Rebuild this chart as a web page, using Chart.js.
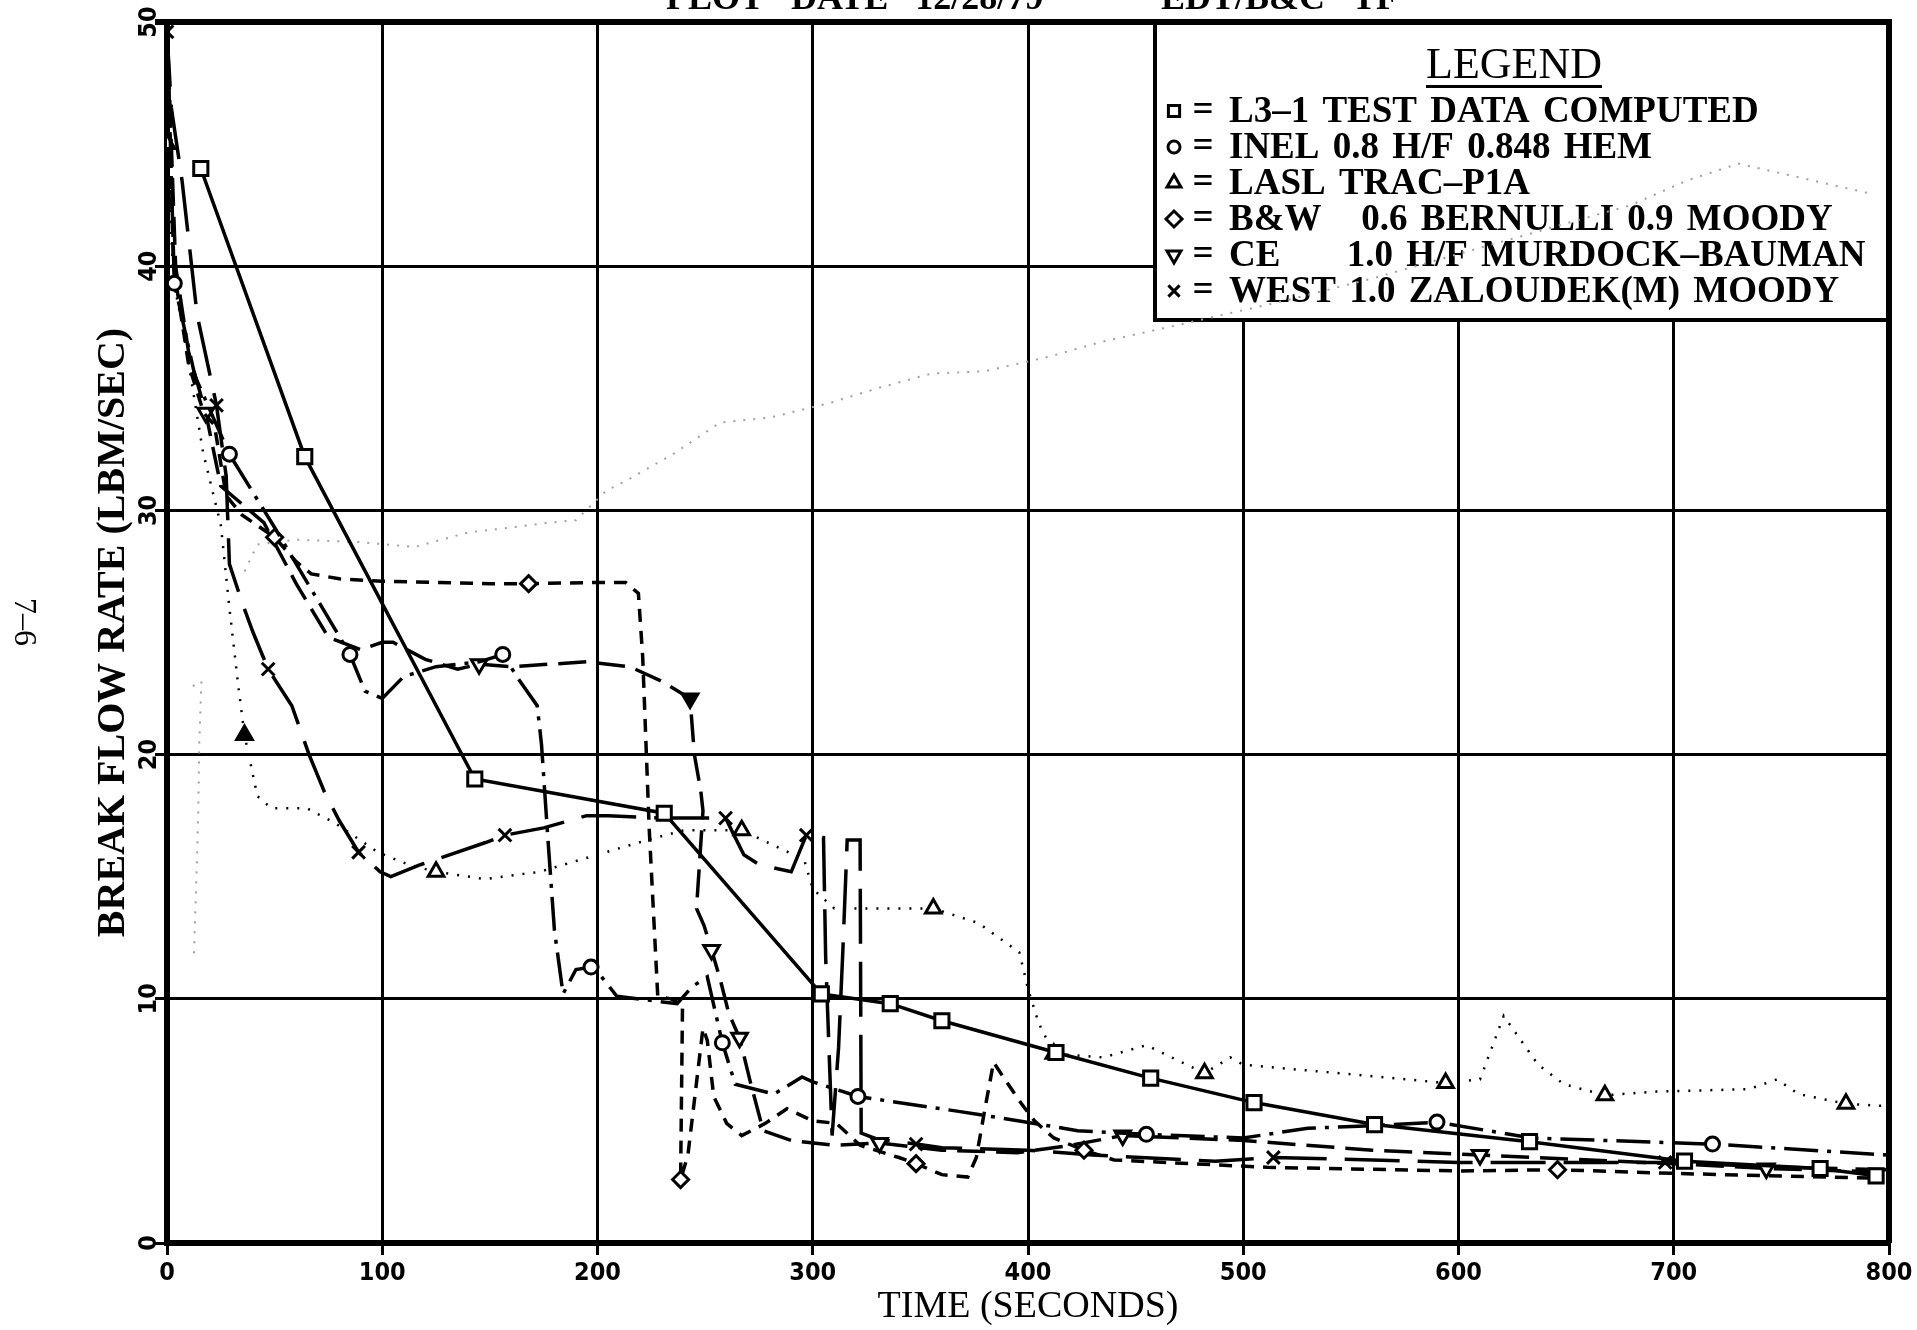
<!DOCTYPE html>
<html>
<head>
<meta charset="utf-8">
<script src="https://cdn.jsdelivr.net/npm/chart.js@4.4.1/dist/chart.umd.min.js"></script>
<style>
html, body { margin: 0; padding: 0; background: #fff; }
canvas { display: block; }
</style>
</head>
<body>
<canvas id="akisGrafik" width="1917" height="1330"></canvas>
<script>
const xTicks = [0, 100, 200, 300, 400, 500, 600, 700, 800];
const yTicks = [0, 10, 20, 30, 40, 50];

// L3-1 test data (squares)
const l31Time = [15.7, 64, 143, 231, 304, 336, 360, 413, 457, 505, 561, 633, 705, 768, 794];
const l31Flow = [44.0, 32.2, 19.0, 17.6, 10.2, 9.8, 9.1, 7.8, 6.75, 5.75, 4.85, 4.15, 3.35, 3.05, 2.75];

// INEL (circles)
const inelTime = [0, 3.4, 13, 29, 50, 85, 92, 100, 110, 125, 145, 156, 164, 172, 174, 177, 180, 184, 190, 197, 201, 209, 237, 244, 251, 258, 264, 282, 295, 300, 321, 367, 396, 423, 455, 500, 530, 560, 590, 634, 718, 800];
const inelFlow = [50, 39.3, 35.5, 32.3, 29.3, 24.1, 22.6, 22.3, 23.2, 23.6, 23.8, 24.1, 23.0, 22.0, 20.4, 16.5, 12.8, 10.2, 11.2, 11.3, 11.0, 10.1, 9.8, 10.5, 10.9, 8.2, 6.5, 6.1, 6.8, 6.6, 6.0, 5.4, 5.0, 4.6, 4.45, 4.3, 4.7, 4.8, 4.95, 4.3, 4.05, 3.6];
const inelMarks = [1, 3, 5, 11, 19, 25, 30, 34, 38, 40];

// LASL (triangles)
const laslTime = [0, 3, 7.5, 16.7, 25, 29, 33, 36, 42, 48.5, 65, 78, 98, 112, 125, 148, 173, 200, 223, 240, 267, 296, 300, 310, 324, 356, 377, 396, 400, 405, 412, 435, 455, 482, 494, 500, 564, 594, 610, 621, 629, 637, 649, 668, 692, 735, 748, 758, 780, 800];
const laslFlow = [45, 39.4, 37.4, 32.4, 29.4, 26, 22.9, 20.8, 18.3, 17.8, 17.8, 17.2, 16.0, 15.5, 15.2, 14.9, 15.2, 15.9, 16.5, 16.9, 16.9, 15.7, 14.5, 13.7, 13.7, 13.7, 13.1, 11.9, 10.4, 9.0, 7.75, 7.6, 8.1, 6.95, 7.6, 7.3, 6.8, 6.55, 6.7, 9.3, 8.3, 7.3, 6.5, 6.05, 6.2, 6.3, 6.7, 6.1, 5.7, 5.6];
const laslMarks = [0, 7, 14, 20, 25, 30, 33, 37, 43, 48];
const laslSolid = [7];

// B&W (diamonds)
const bwTime = [0, 3, 10, 17, 22, 27.5, 35, 50, 60, 67, 80, 100, 150, 168, 200, 213, 219, 221, 224, 228, 234, 239.5, 238.6, 242, 249, 251, 254, 260, 267, 278, 288, 300, 311, 322, 340, 348, 360, 372, 376, 380, 384, 390, 397, 403, 412, 426, 440, 511, 600, 646, 700, 795];
const bwFlow = [50, 40, 36, 34, 33.5, 30.6, 29.8, 28.9, 27.9, 27.4, 27.2, 27.1, 27.0, 27.0, 27.05, 27.05, 26.6, 24, 17, 10.1, 10.0, 9.75, 2.6, 3.6, 8.8, 8.3, 6.0, 4.9, 4.4, 4.9, 5.5, 5.0, 4.9, 4.0, 3.5, 3.25, 2.8, 2.7, 3.5, 5.5, 7.4, 6.6, 5.7, 5.0, 4.3, 3.8, 3.4, 3.1, 2.95, 3.0, 2.85, 2.65];
const bwMarks = [7, 13, 22, 35, 45, 49];

// CE (inverted triangles)
const ceTime = [0, 4, 10, 18, 25, 45, 60, 75, 90, 100, 105, 120, 135, 145, 160, 195, 215, 230, 243, 245, 248, 249, 246, 249.5, 253, 257, 261, 266, 271, 277, 290, 310, 331, 360, 395, 420, 444, 500, 560, 610, 700, 743, 800];
const ceFlow = [50, 40, 36.5, 34, 31, 29.5, 27, 24.8, 24.3, 24.6, 24.6, 23.9, 23.5, 23.7, 23.6, 23.8, 23.6, 23.0, 22.3, 20.0, 18.5, 17.7, 13.7, 13.0, 12.0, 10.8, 9.4, 8.4, 6.6, 4.6, 4.2, 4.0, 4.1, 3.8, 3.7, 4.0, 4.4, 4.2, 3.8, 3.6, 3.25, 3.05, 2.9];
const ceMarks = [3, 13, 18, 24, 27, 32, 36, 39, 41];
const ceSolid = [18];

// WEST (crosses)
const westTime = [0, 2, 7, 14, 23, 27.5, 29, 35, 40, 47, 58, 66, 73, 80, 89, 99, 104, 118, 148, 157, 175, 195, 205, 230, 259.5, 264, 268, 275, 290, 297, 305, 306, 309, 312, 314, 316, 322, 322.5, 330, 348, 360, 400, 430, 487, 514, 560, 600, 650, 696, 750, 800];
const westFlow = [49.6, 46.5, 43.5, 38, 34.3, 31.4, 27.8, 26.2, 25, 23.5, 22, 20, 18.5, 17.3, 16.0, 15.2, 15.0, 15.5, 16.4, 16.7, 17.0, 17.5, 17.5, 17.4, 17.4, 16.6, 15.9, 15.5, 15.2, 16.7, 16.6, 11.7, 4.4, 8.0, 12, 16.5, 16.5, 4.5, 4.25, 4.05, 3.9, 3.8, 3.6, 3.35, 3.5, 3.4, 3.3, 3.3, 3.3, 3.1, 3.0];
const westMarks = [0, 4, 9, 14, 19, 24, 29, 39, 44, 48];

// faint show-through from the facing page
const bleedTime = [12, 16, 15, 14.5, 13.5, 12.5, 20, 36, 42, 60, 90, 115, 140, 160, 178, 190, 204, 215, 235, 257, 280, 308, 330, 355, 380, 410, 434, 460, 490, 520, 560, 620, 680, 706, 730, 760, 790];
const bleedFlow = [22.8, 23.0, 20.5, 17.5, 14.5, 11.8, null, 27.5, 28.6, 28.8, 28.7, 28.5, 29.1, 29.3, 29.5, 29.6, 30.8, 31.3, 32.3, 33.6, 33.8, 34.4, 35.0, 35.6, 35.7, 36.3, 36.9, 37.4, 38.0, 38.6, 39.5, 41.0, 42.5, 43.5, 44.2, 43.6, 43.0];

function noktalar(t, f) {
    return t.map((x, i) => ({x: x, y: f[i]}));
}

function isaret(list, r) {
    return ctx => list.includes(ctx.dataIndex) ? r : 0;
}

function dolgu(list) {
    return ctx => list.includes(ctx.dataIndex) ? '#000' : '#fff';
}

const tickFont = 'bold 25px "Liberation Sans Narrow", "DejaVu Sans Condensed", sans-serif';

function drawMark(ctx, style, rot, x, y, r) {
    ctx.save();
    ctx.translate(x, y);
    ctx.rotate((rot || 0) * Math.PI / 180);
    ctx.beginPath();
    if (style === 'rect') {
        ctx.rect(-r * 0.7, -r * 0.7, r * 1.4, r * 1.4);
    } else if (style === 'circle') {
        ctx.arc(0, 0, r * 0.75, 0, Math.PI * 2);
    } else if (style === 'triangle') {
        ctx.moveTo(0, -r);
        ctx.lineTo(r * 0.87, r * 0.5);
        ctx.lineTo(-r * 0.87, r * 0.5);
        ctx.closePath();
    } else if (style === 'rectRot') {
        ctx.moveTo(0, -r);
        ctx.lineTo(r, 0);
        ctx.lineTo(0, r);
        ctx.lineTo(-r, 0);
        ctx.closePath();
    } else {
        ctx.moveTo(-r * 0.7, -r * 0.7);
        ctx.lineTo(r * 0.7, r * 0.7);
        ctx.moveTo(r * 0.7, -r * 0.7);
        ctx.lineTo(-r * 0.7, r * 0.7);
    }
    if (style !== 'crossRot') {
        ctx.fillStyle = '#fff';
        ctx.fill();
    }
    ctx.lineWidth = 3;
    ctx.strokeStyle = '#000';
    ctx.stroke();
    ctx.restore();
}

// legend box inside the plot, drawn under the curves
const legendKutusu = {
    id: 'legendKutusu',
    beforeDatasetsDraw(chart) {
        const ctx = chart.ctx;
        const a = chart.chartArea;
        const left = 1155, bottom = 320;
        ctx.save();
        ctx.fillStyle = '#fff';
        ctx.fillRect(left, a.top, a.right - left, bottom - a.top);
        ctx.lineWidth = 4;
        ctx.strokeStyle = '#000';
        ctx.strokeRect(left, a.top, a.right - left, bottom - a.top);

        ctx.fillStyle = '#000';
        ctx.font = '44px "Liberation Serif", serif';
        ctx.textAlign = 'center';
        ctx.textBaseline = 'middle';
        ctx.fillText('LEGEND', 1514, 66);
        const w = ctx.measureText('LEGEND').width;
        ctx.fillRect(1514 - w / 2, 85, w, 3);

        ctx.font = 'bold 37px "Liberation Serif", serif';
        if ('wordSpacing' in ctx) ctx.wordSpacing = '4px';
        chart.data.datasets.slice(0, 6).forEach((ds, i) => {
            const y = 111 + i * 36;
            drawMark(ctx, ds.pointStyle, ds.pointRotation, 1174, y, 8);
            ctx.fillStyle = '#000';
            ctx.textAlign = 'center';
            ctx.fillText('=', 1203, y);
            ctx.textAlign = 'left';
            ctx.fillText(ds.label, 1229, y + 1);
        });
        ctx.restore();
    },
    afterDraw(chart) {
        const ctx = chart.ctx;
        const a = chart.chartArea;
        ctx.save();
        ctx.strokeStyle = '#000';
        ctx.lineWidth = 6;
        ctx.beginPath();
        ctx.moveTo(a.left - 12, a.top);
        ctx.lineTo(a.right, a.top);
        ctx.lineTo(a.right, a.bottom);
        ctx.stroke();

        // rotated y tick labels
        const ys = chart.scales.y;
        ctx.fillStyle = '#000';
        ctx.font = tickFont;
        ctx.textAlign = 'center';
        ctx.textBaseline = 'middle';
        ys.ticks.forEach(t => {
            const py = ys.getPixelForValue(t.value);
            ctx.save();
            ctx.translate(149, py);
            ctx.rotate(-Math.PI / 2);
            ctx.fillText(String(t.value), 0, 0);
            ctx.restore();
        });

        // cut-off header line at the very top
        ctx.font = 'bold 36px "Liberation Serif", serif';
        ctx.textAlign = 'left';
        ctx.textBaseline = 'alphabetic';
        if ('wordSpacing' in ctx) ctx.wordSpacing = '18px';
        ctx.fillText('PLOT DATE 12/28/79', 666, 9);
        ctx.fillText('EDT/B&C TF', 1161, 9);
        if ('wordSpacing' in ctx) ctx.wordSpacing = '0px';

        // page number
        ctx.font = '32px "Liberation Serif", serif';
        ctx.textAlign = 'center';
        ctx.textBaseline = 'middle';
        ctx.translate(23, 622);
        ctx.rotate(Math.PI / 2);
        ctx.fillText('7–6', 0, 0);
        ctx.restore();
    }
};

const config = {
    type: 'scatter',
    data: {
        datasets: [{
            label: 'L3–1 TEST DATA COMPUTED',
            data: noktalar(l31Time, l31Flow),
            showLine: true,
            borderColor: '#000',
            borderWidth: 3.5,
            pointStyle: 'rect',
            pointRadius: 10,
            pointBorderWidth: 3,
            pointBorderColor: '#000',
            pointBackgroundColor: '#fff'
        }, {
            label: 'INEL 0.8 H/F 0.848 HEM',
            data: noktalar(inelTime, inelFlow),
            showLine: true,
            borderColor: '#000',
            borderWidth: 3.5,
            borderDash: [34, 9, 4, 9],
            pointStyle: 'circle',
            pointRadius: isaret(inelMarks, 7),
            pointBorderWidth: 3,
            pointBorderColor: '#000',
            pointBackgroundColor: '#fff'
        }, {
            label: 'LASL TRAC–P1A',
            data: noktalar(laslTime, laslFlow),
            showLine: true,
            borderColor: '#000',
            borderWidth: 2.5,
            borderDash: [2, 9],
            pointStyle: 'triangle',
            pointRadius: isaret(laslMarks, 9),
            pointBorderWidth: 3,
            pointBorderColor: '#000',
            pointBackgroundColor: dolgu(laslSolid)
        }, {
            label: 'B&W   0.6 BERNULLI 0.9 MOODY',
            data: noktalar(bwTime, bwFlow),
            showLine: true,
            borderColor: '#000',
            borderWidth: 3.5,
            borderDash: [13, 9],
            pointStyle: 'rectRot',
            pointRadius: isaret(bwMarks, 8),
            pointBorderWidth: 3,
            pointBorderColor: '#000',
            pointBackgroundColor: '#fff'
        }, {
            label: 'CE     1.0 H/F MURDOCK–BAUMAN',
            data: noktalar(ceTime, ceFlow),
            showLine: true,
            borderColor: '#000',
            borderWidth: 3.5,
            borderDash: [28, 11],
            pointStyle: 'triangle',
            pointRotation: 180,
            pointRadius: isaret(ceMarks, 9),
            pointBorderWidth: 3,
            pointBorderColor: '#000',
            pointBackgroundColor: dolgu(ceSolid)
        }, {
            label: 'WEST 1.0 ZALOUDEK(M) MOODY',
            data: noktalar(westTime, westFlow),
            showLine: true,
            borderColor: '#000',
            borderWidth: 3.5,
            borderDash: [55, 18],
            pointStyle: 'crossRot',
            pointRadius: isaret(westMarks, 9),
            pointBorderWidth: 3,
            pointBorderColor: '#000'
        }, {
            label: '',
            data: noktalar(bleedTime, bleedFlow),
            showLine: true,
            spanGaps: false,
            borderColor: '#a0a0a0',
            borderWidth: 2,
            borderDash: [2, 8],
            pointRadius: 0
        }]
    },
    options: {
        responsive: false,
        animation: false,
        layout: {
            padding: {top: 22, right: 28, left: 0, bottom: 0}
        },
        plugins: {
            legend: {display: false},
            tooltip: {enabled: false},
            title: {display: false}
        },
        scales: {
            x: {
                type: 'linear',
                min: 0,
                max: 800,
                afterBuildTicks: s => { s.ticks = xTicks.map(v => ({value: v})); },
                afterFit: s => { s.height = 87; },
                grid: {color: '#000', lineWidth: 3, tickLength: 12, tickWidth: 3},
                border: {color: '#000', width: 6},
                ticks: {
                    color: '#000',
                    padding: 3,
                    maxRotation: 0,
                    font: {family: '"Liberation Sans Narrow", "DejaVu Sans Condensed", sans-serif', size: 25, weight: 'bold'}
                },
                title: {
                    display: true,
                    text: 'TIME (SECONDS)',
                    color: '#000',
                    padding: {top: 0, bottom: 0},
                    font: {family: '"Liberation Serif", serif', size: 38}
                }
            },
            y: {
                type: 'linear',
                min: 0,
                max: 50,
                afterBuildTicks: s => { s.ticks = yTicks.map(v => ({value: v})); },
                afterFit: s => { s.width = 167; },
                grid: {color: '#000', lineWidth: 3, tickLength: 12, tickWidth: 3},
                border: {color: '#000', width: 6},
                ticks: {color: 'rgba(0,0,0,0)', font: {size: 25}},
                title: {
                    display: true,
                    text: 'BREAK FLOW RATE (LBM/SEC)',
                    color: '#000',
                    padding: {top: 90, bottom: 0},
                    font: {family: '"Liberation Serif", serif', size: 40, weight: 'bold'}
                }
            }
        }
    },
    plugins: [legendKutusu]
};

const context = document.getElementById('akisGrafik').getContext('2d');
const akisGrafik = new Chart(context, config);
</script>
</body>
</html>
